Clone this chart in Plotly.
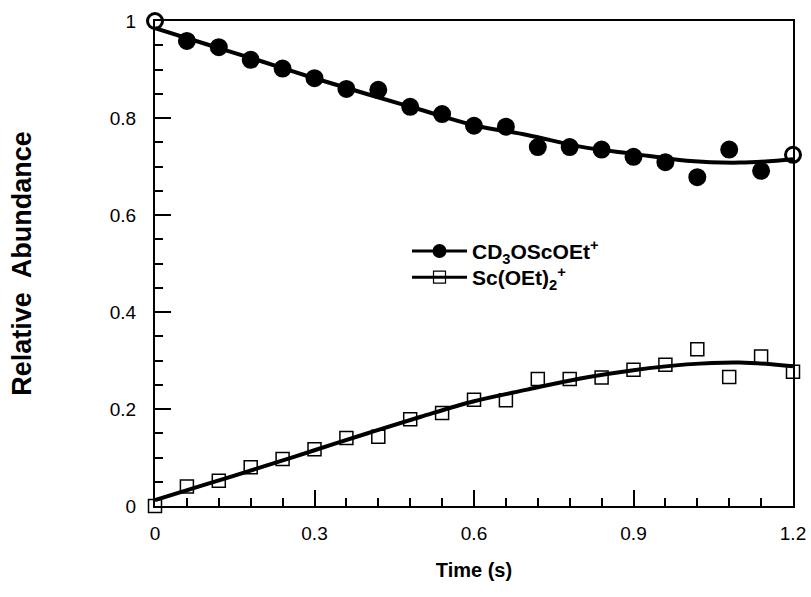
import plotly.graph_objects as go

# measured data
t = [0.0, 0.06, 0.12, 0.18, 0.24, 0.30, 0.36, 0.42, 0.48, 0.54, 0.60,
     0.66, 0.72, 0.78, 0.84, 0.90, 0.96, 1.02, 1.08, 1.14, 1.20]
cd3o = [1.0, 0.959, 0.946, 0.920, 0.902, 0.882, 0.860, 0.858, 0.823, 0.808, 0.784,
        0.782, 0.740, 0.740, 0.735, 0.720, 0.709, 0.678, 0.735, 0.691, 0.724]
scoet2 = [0.0, 0.040, 0.052, 0.080, 0.097, 0.117, 0.140, 0.143, 0.179, 0.192, 0.219,
          0.218, 0.262, 0.262, 0.265, 0.281, 0.291, 0.323, 0.266, 0.308, 0.277]

# fitted curves
t_fit = [0.0, 0.1, 0.2, 0.3, 0.4, 0.5, 0.6, 0.7, 0.8, 0.9, 1.0, 1.1, 1.2]
cd3o_fit = [0.985, 0.951, 0.917, 0.882, 0.849, 0.817, 0.785, 0.765, 0.741, 0.726, 0.712, 0.708, 0.715]
scoet2_fit = [0.012, 0.046, 0.080, 0.115, 0.150, 0.184, 0.216, 0.240, 0.263, 0.280, 0.292, 0.296, 0.288]

x_ticks = [0, 0.3, 0.6, 0.9, 1.2]
x_labels = ["0", "0.3", "0.6", "0.9", "1.2"]
y_ticks = [0, 0.2, 0.4, 0.6, 0.8, 1.0]
y_labels = ["0", "0.2", "0.4", "0.6", "0.8", "1"]

names = ["<b>CD<sub>3</sub>OScOEt<sup>+</sup></b>", "<b>Sc(OEt)<sub>2</sub><sup>+</sup></b>"]

circle_symbols = ["circle-open"] + ["circle"] * (len(t) - 2) + ["circle-open"]

fig = go.Figure()

fig.add_trace(go.Scatter(x=t_fit, y=cd3o_fit, mode="lines", line=dict(color="black", width=4, shape="spline"),
                         showlegend=False, cliponaxis=False))
fig.add_trace(go.Scatter(x=t_fit, y=scoet2_fit, mode="lines", line=dict(color="black", width=4, shape="spline"),
                         showlegend=False, cliponaxis=False))
fig.add_trace(go.Scatter(x=t, y=cd3o, mode="markers",
                         marker=dict(symbol=circle_symbols, size=15, color="black", line=dict(color="black", width=3)),
                         showlegend=False, cliponaxis=False))
fig.add_trace(go.Scatter(x=t, y=scoet2, mode="markers",
                         marker=dict(symbol="square-open", size=13, color="black", line=dict(color="black", width=1.5)),
                         showlegend=False, cliponaxis=False))

# legend entries (one legend each so the row spacing can be set)
fig.add_trace(go.Scatter(x=[None], y=[None], mode="lines+markers", name=names[0], legend="legend",
                         line=dict(color="black", width=3),
                         marker=dict(symbol="circle", size=14, color="black")))
fig.add_trace(go.Scatter(x=[None], y=[None], mode="lines+markers", name=names[1], legend="legend2",
                         line=dict(color="black", width=3),
                         marker=dict(symbol="square-open", size=12, color="black", line=dict(color="black", width=1.2))))

legend_style = dict(xanchor="left", yanchor="middle", bgcolor="rgba(0,0,0,0)", itemwidth=55, font=dict(size=21))

fig.update_layout(
    width=811, height=597,
    margin=dict(l=155, r=18, t=21, b=91),
    plot_bgcolor="white", paper_bgcolor="white",
    font=dict(family="Liberation Sans, Arial", color="black", size=19),
    legend=dict(x=0.395, y=0.525, **legend_style),
    legend2=dict(x=0.395, y=0.471, **legend_style),
)

fig.update_xaxes(
    range=[0, 1.2], tickvals=x_ticks, ticktext=x_labels, automargin=False,
    showline=True, mirror=True, linecolor="black", linewidth=2,
    ticks="inside", ticklen=16, tickwidth=1.5, tickcolor="black",
    minor=dict(dtick=0.06, ticks="inside", ticklen=8, tickwidth=1.5, tickcolor="black"),
    showgrid=False, zeroline=False, ticklabelstandoff=9,
    title=dict(text="<b>Time (s)</b>", font=dict(family="Liberation Sans Narrow, Liberation Sans", size=20), standoff=20),
)
fig.update_yaxes(
    range=[0, 1.0], tickvals=y_ticks, ticktext=y_labels, automargin=False,
    showline=True, mirror=True, linecolor="black", linewidth=2,
    ticks="inside", ticklen=16, tickwidth=1.5, tickcolor="black",
    minor=dict(dtick=0.05, ticks="inside", ticklen=8, tickwidth=1.5, tickcolor="black"),
    showgrid=False, zeroline=False, ticklabelstandoff=13,
    title=dict(text="<b>Relative  Abundance</b>", font=dict(size=27), standoff=70),
)

# drop the browser's default body margin so the figure sits at the page corner
fig.write_html("out.html", config={"displayModeBar": False},
               post_script="document.body.style.margin='0';")
